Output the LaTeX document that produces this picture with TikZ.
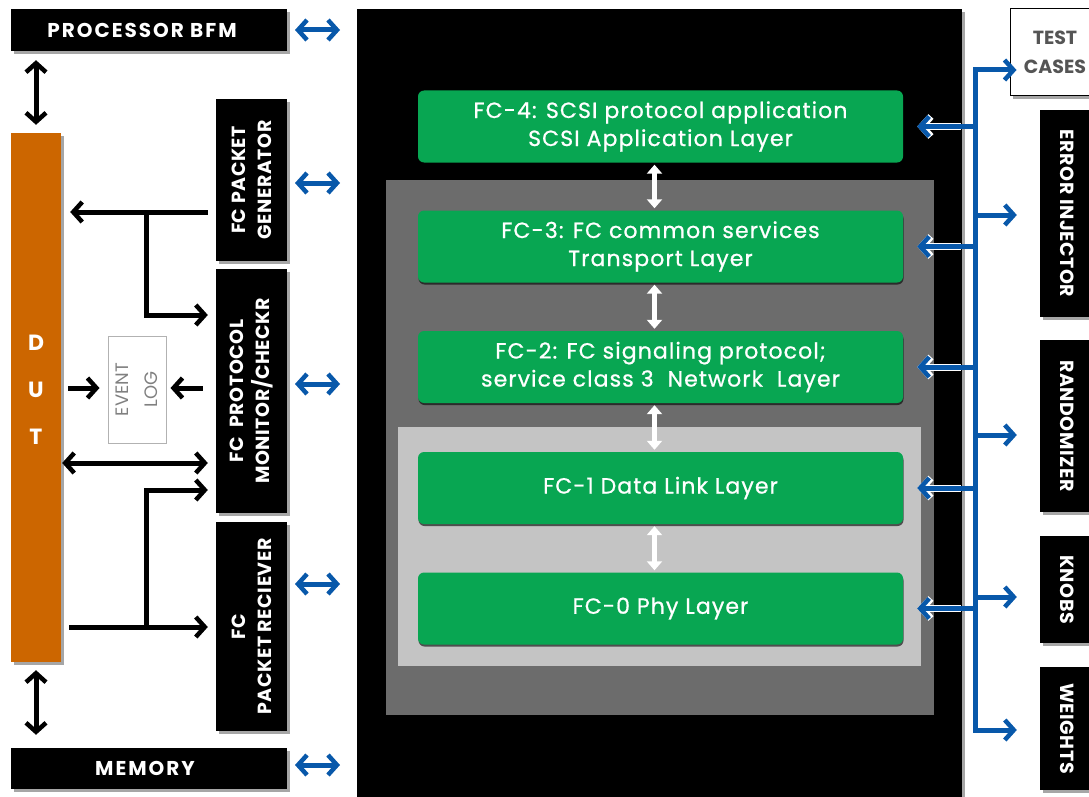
\documentclass[tikz,border=0pt]{standalone}
\usepackage{fontspec}
\setmainfont{Poppins}
\usetikzlibrary{arrows.meta,shadows,calc}
\definecolor{fcgreen}{RGB}{8,166,82}
\definecolor{fcorange}{RGB}{204,102,0}
\definecolor{fcblue}{RGB}{8,88,170}
\definecolor{dgray}{RGB}{108,108,108}
\definecolor{lgray}{RGB}{196,196,196}
\definecolor{txtgray}{RGB}{85,85,85}
\begin{document}
\begin{tikzpicture}[x=1pt,y=-1pt,
  shad/.style={drop shadow={shadow xshift=3pt,shadow yshift=-3pt,opacity=0.35,fill=black}},
  blk/.style={fill=black,text=white,inner sep=0,align=center,shad,
    font=\bfseries\fontsize{19}{26}\selectfont\addfontfeatures{LetterSpace=3}},
  blkh/.style={blk,font=\bfseries\fontsize{20}{26}\selectfont\addfontfeatures{LetterSpace=10}},
  layer/.style={fill=fcgreen,rounded corners=6pt,minimum width=485pt,minimum height=72pt,text=white,align=center,
    inner sep=0,font=\fontsize{22}{28}\selectfont\addfontfeatures{LetterSpace=5,FakeBold=0.8},
    drop shadow={shadow xshift=0.5pt,shadow yshift=-2pt,opacity=0.6,fill=black}},
  barb/.tip={Straight Barb[length=9pt,width=20pt,line width=4.5pt]},
  barrow/.style={line width=5pt,-barb},
  bdbl/.style={line width=5pt,barb-barb},
  bline/.style={draw=fcblue,line width=5pt},
  btip/.tip={Straight Barb[length=9pt,width=20pt,line width=4.5pt]},
  htip/.tip={Straight Barb[length=9pt,width=20pt,line width=7pt]},
  halo/.style={draw=white,line width=7pt,-htip},
  warrow/.style={draw=white,line width=4.5pt,{Triangle[length=9pt,width=15pt]}-{Triangle[length=9pt,width=15pt]}}
]
\useasboundingbox (0,0) rectangle (1089,797);

% ---------- middle stack ----------
\node[fill=black,minimum width=605pt,minimum height=792pt,inner sep=0,shad] (big) at (659.5,405) {};
\node[fill=dgray,minimum width=548pt,minimum height=535pt,inner sep=0] (dg) at (659.5,447.5) {};
\node[fill=lgray,minimum width=523pt,minimum height=239pt,inner sep=0] (lg) at (659.5,546) {};

\node[layer] (fc4) at (660.5,126.5) {FC-4: SCSI protocol application\\SCSI Application Layer};
\node[layer] (fc3) at (660.5,246.5) {FC-3: FC common services\\Transport Layer};
\node[layer] (fc2) at (660.5,367) {FC-2: FC signaling protocol;\\service class 3\ \ Network\ \ Layer};
\node[layer] (fc1) at (660.5,488) {FC-1 Data Link Layer};
\node[layer] (fc0) at (660.5,608.5) {FC-0 Phy Layer};

\draw[warrow,shorten <=2pt,shorten >=2pt] ([xshift=-6pt]fc4.south) -- ([xshift=-6pt]fc3.north);
\draw[warrow,shorten <=2pt,shorten >=2pt] ([xshift=-6pt]fc3.south) -- ([xshift=-6pt]fc2.north);
\draw[warrow,shorten <=2pt,shorten >=2pt] ([xshift=-6pt]fc2.south) -- ([xshift=-6pt]fc1.north);
\draw[warrow,shorten <=2pt,shorten >=2pt] ([xshift=-6pt]fc1.south) -- ([xshift=-6pt]fc0.north);

% ---------- left column ----------
\node[blkh,minimum width=276pt,minimum height=42pt] (proc) at (149,30) {PROCESSOR BFM\hspace*{14pt}};
\node[blkh,minimum width=276pt,minimum height=41pt] (mem) at (149,768.5) {MEMORY\hspace*{8pt}};
\node[fill=fcorange,minimum width=50pt,minimum height=529pt,inner sep=0,shad] (dut) at (36,397.5) {};
\node[text=white,font=\bfseries\fontsize{22}{47}\selectfont,align=center,inner sep=0] (dutlbl) at (36,390) {D\\U\\T};

\node[blk,rotate=90,minimum width=162pt,minimum height=71pt] (gen) at (251.5,180) {FC PACKET\\GENERATOR};
\node[blk,rotate=90,minimum width=244pt,minimum height=71pt] (mon) at (251.5,391) {FC\ \ PROTOCOL\\MONITOR/CHECKR};
\node[blk,rotate=90,minimum width=209pt,minimum height=71pt] (rec) at (251.5,626.5) {FC\\PACKET RECIEVER};

\node[draw=gray!60,line width=1pt,rotate=90,minimum width=107pt,minimum height=58pt,inner sep=0,
  text=gray,font=\fontsize{18}{29}\selectfont,align=center] (ev) at (137,389.5) {EVENT\\LOG};

% black connectors
\draw[bdbl,shorten <=9pt,shorten >=8pt] (proc.south -| dut.north) -- (dut.north);
\draw[bdbl,shorten <=8pt,shorten >=13pt] (dut.south) -- (mem.north -| dut.south);

\coordinate (k1) at (146,212);
\coordinate (k2) at (146,627);
\draw[barrow,shorten <=8pt,shorten >=9pt] (gen.north |- k1) -- (dut.east |- k1);
\draw[barrow,shorten >=8pt] (k1) -- (k1 |- 0,315) -- (mon.north |- 0,315);
\draw[barrow,shorten <=7pt,shorten >=8pt] (dut.east |- 0,388) -- (ev.north |- 0,388);
\draw[barrow,shorten <=13pt,shorten >=4pt] (mon.north |- 0,388) -- (ev.south |- 0,388);
\draw[bdbl,shorten <=1pt,shorten >=8pt] (dut.east |- 0,463) -- (mon.north |- 0,463);
\draw[barrow,shorten <=8pt,shorten >=8pt] (dut.east |- k2) -- (rec.north |- k2);
\draw[barrow,shorten >=8pt] (k2) -- (k2 |- 0,490) -- (mon.north |- 0,490);

% blue double arrows left of the stack
\foreach \i/\yy in {1/30,2/183,3/384,4/584,5/765}{
  \coordinate (l\i) at (295,\yy);
  \coordinate (r\i) at (340,\yy);
  \draw[bline,btip-btip] (l\i) -- (r\i);
}

% ---------- right column ----------
\node[draw=black,line width=1pt,fill=white,minimum width=90pt,minimum height=87pt,inner sep=0,
  text=txtgray,font=\bfseries\fontsize{19}{29}\selectfont,align=center,shad] (test) at (1055,52.5) {TEST\\CASES};
\node[blk,rotate=-90,minimum width=207pt,minimum height=55pt] (err) at (1067.5,213.5) {ERROR INJECTOR};
\node[blk,rotate=-90,minimum width=172pt,minimum height=55pt] (rnd) at (1067.5,426) {RANDOMIZER};
\node[blk,rotate=-90,minimum width=107pt,minimum height=55pt] (knb) at (1067.5,589.5) {KNOBS};
\node[blk,rotate=-90,minimum width=123pt,minimum height=55pt] (wts) at (1067.5,728.5) {WEIGHTS};

% blue bus
\coordinate (btop) at (975,70);
\coordinate (bbot) at (975,730);
\coordinate (j2) at (975,215);
\coordinate (j3) at (975,435);
\coordinate (j4) at (975,597);

\foreach \n in {fc4,fc3,fc2,fc1,fc0}{
  \draw[halo,shorten >=14pt] ([xshift=-14pt]\n.east -| btop) -- (\n.east);
}
\draw[bline,-btip,shorten >=-7pt] (bbot) -- (btop) -- (test.west |- btop);
\draw[bline,-btip,shorten >=23pt] (btop) -- (bbot) -- (wts.south |- bbot);
\draw[bline,-btip,shorten >=23pt] (j2) -- (j2 -| err.south);
\draw[bline,-btip,shorten >=23pt] (j3) -- (j3 -| rnd.south);
\draw[bline,-btip,shorten >=23pt] (j4) -- (j4 -| knb.south);
\foreach \n in {fc4,fc3,fc2,fc1,fc0}{
  \draw[bline,-btip,shorten >=14pt] (\n.east -| btop) -- (\n.east);
}
\end{tikzpicture}
\end{document}
